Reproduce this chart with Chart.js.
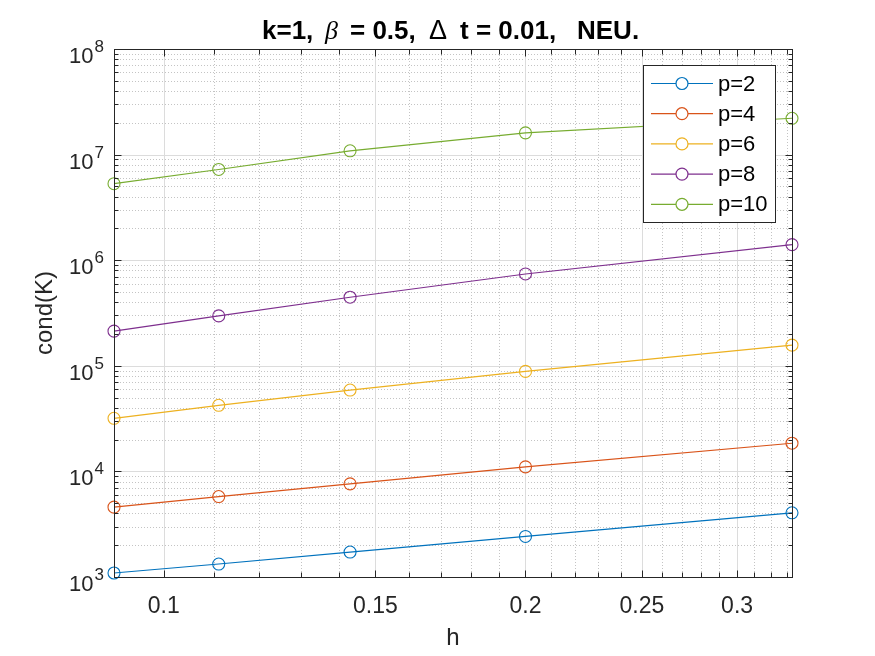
<!DOCTYPE html>
<html><head><meta charset="utf-8">
<script src="https://cdn.jsdelivr.net/npm/chart.js@4.4.0/dist/chart.umd.min.js"></script>
<style>html,body{margin:0;padding:0;background:#fff;overflow:hidden}#wrap{width:875px;height:656px;position:relative}</style>
</head><body>
<div id="wrap"><canvas id="c" width="875" height="656"></canvas></div>
<script>
// ---- data ----
const hValues = [0.0909, 0.1111, 0.1429, 0.2, 0.3333];
const condP2  = [1091, 1327, 1723, 2420, 4053];
const condP4  = [4587, 5779, 7619, 11030, 18480];
const condP6  = [31840, 42240, 58940, 88550, 156900];
const condP8  = [212800, 296900, 446000, 740500, 1404000];
const condP10 = [5300000, 7230000, 10860000, 16070000, 22080000];
const seriesLabels = ['p=2', 'p=4', 'p=6', 'p=8', 'p=10'];
const seriesColors = ['#0072BD', '#D95319', '#EDB120', '#7E2F8E', '#77AC30'];
const xMajorTicks = [0.1, 0.15, 0.2, 0.25, 0.3];
const xTickLabels = ['0.1', '0.15', '0.2', '0.25', '0.3'];
const xMinorTicks = [0.11, 0.12, 0.13, 0.14, 0.16, 0.17, 0.18, 0.19, 0.21, 0.22, 0.23, 0.24, 0.26, 0.27, 0.28, 0.29, 0.31, 0.32, 0.33];
const yMajorExponents = [3, 4, 5, 6, 7, 8];
const yMinorMultipliers = [2, 3, 4, 5, 6, 7, 8, 9];
// title pieces with their offset from the plot centre (px)
const titleParts = [
  {text: 'k=1,', style: 'bold', dx: -191},
  {text: 'β', style: 'greek', dx: -128},
  {text: '= 0.5,', style: 'bold', dx: -103},
  {text: 'Δ', style: 'delta', dx: -24},
  {text: 't = 0.01,', style: 'bold', dx: 7},
  {text: 'NEU.', style: 'bold', dx: 124}
];
const xAxisTitle = 'h';
const yAxisTitle = 'cond(K)';

const seriesValues = [condP2, condP4, condP6, condP8, condP10];

const FONT = '"Liberation Sans", Arial, Helvetica, sans-serif';
const AX = '#262626';

function seg(ctx, x1, y1, x2, y2) { ctx.beginPath(); ctx.moveTo(x1, y1); ctx.lineTo(x2, y2); ctx.stroke(); }

const matlabAxes = {
  id: 'matlabAxes',
  beforeDatasetsDraw(chart) {
    const {ctx, chartArea: a, scales: {x, y}} = chart;
    ctx.save();
    ctx.lineWidth = 1;
    ctx.strokeStyle = '#c4c4c4';
    ctx.setLineDash([1, 2]);
    xMinorTicks.forEach(v => { const px = Math.round(x.getPixelForValue(v)) + 0.5; seg(ctx, px, a.top, px, a.bottom); });
    yMajorExponents.slice(0, -1).forEach(e => yMinorMultipliers.forEach(m => {
      const py = Math.round(y.getPixelForValue(m * Math.pow(10, e))) + 0.5; seg(ctx, a.left, py, a.right, py);
    }));
    ctx.setLineDash([]);
    ctx.strokeStyle = '#dcdcdc';
    xMajorTicks.forEach(v => { const px = Math.round(x.getPixelForValue(v)) + 0.5; seg(ctx, px, a.top, px, a.bottom); });
    yMajorExponents.forEach(e => { const py = Math.round(y.getPixelForValue(Math.pow(10, e))) + 0.5; seg(ctx, a.left, py, a.right, py); });
    ctx.restore();
  },
  afterDatasetsDraw(chart) {
    const {ctx, chartArea: a, scales: {x, y}} = chart;
    ctx.save();
    const L = Math.round(a.left) + 0.5, R = Math.round(a.right) + 0.5, T = Math.round(a.top) + 0.5, B = Math.round(a.bottom) + 0.5;
    ctx.strokeStyle = AX; ctx.lineWidth = 1;
    ctx.strokeRect(L, T, R - L, B - T);
    const xt = (v, len) => { const px = Math.round(x.getPixelForValue(v)) + 0.5; seg(ctx, px, B, px, B - len); seg(ctx, px, T, px, T + len); };
    xMajorTicks.forEach(v => xt(v, 7));
    xMinorTicks.forEach(v => xt(v, 5));
    const yt = (v, len) => { const py = Math.round(y.getPixelForValue(v)) + 0.5; seg(ctx, L, py, L + len, py); seg(ctx, R, py, R - len, py); };
    yMajorExponents.forEach(e => yt(Math.pow(10, e), 7));
    yMajorExponents.slice(0, -1).forEach(e => yMinorMultipliers.forEach(m => yt(m * Math.pow(10, e), 4)));
    // x tick labels
    ctx.fillStyle = AX;
    ctx.font = '23px ' + FONT;
    ctx.textAlign = 'center'; ctx.textBaseline = 'alphabetic';
    xMajorTicks.forEach((v, i) => ctx.fillText(xTickLabels[i], x.getPixelForValue(v), a.bottom + 36));
    // y tick labels 10^n
    ctx.textAlign = 'left';
    yMajorExponents.forEach(e => {
      const py = y.getPixelForValue(Math.pow(10, e));
      ctx.font = '17px ' + FONT;
      const sw = ctx.measureText(String(e)).width;
      const sx = 104 - sw;
      ctx.fillText(String(e), sx, py + 3);
      ctx.font = '22px ' + FONT;
      const bw = ctx.measureText('10').width;
      ctx.fillText('10', sx - bw - 1, py + 14);
    });
    // axis titles
    ctx.font = '24px ' + FONT;
    ctx.textAlign = 'center';
    ctx.fillText(xAxisTitle, (a.left + a.right) / 2, 645);
    ctx.save();
    ctx.translate(52, (a.top + a.bottom) / 2);
    ctx.rotate(-Math.PI / 2);
    ctx.fillText(yAxisTitle, 0, 0);
    ctx.restore();
    // title
    const fontFor = s => s === 'bold' ? 'bold 26px ' + FONT : (s === 'greek' ? 'italic 26px "Liberation Serif", "DejaVu Serif", serif' : '27px ' + FONT);
    const cx = (a.left + a.right) / 2;
    ctx.fillStyle = '#000';
    ctx.textAlign = 'left';
    titleParts.forEach(p => { ctx.font = fontFor(p.style); ctx.fillText(p.text, cx + p.dx, 39); });
    // legend
    const lb = {l: 643.5, t: 65.5, r: 775.5, b: 222.5};
    ctx.fillStyle = '#fff';
    ctx.fillRect(lb.l, lb.t, lb.r - lb.l, lb.b - lb.t);
    ctx.strokeStyle = AX; ctx.lineWidth = 1;
    ctx.strokeRect(lb.l, lb.t, lb.r - lb.l, lb.b - lb.t);
    ctx.font = '22px ' + FONT;
    ctx.textBaseline = 'middle';
    chart.data.datasets.forEach((ds, i) => {
      const cy = 83.5 + i * 30.2;
      ctx.strokeStyle = ds.borderColor; ctx.lineWidth = 1.2;
      seg(ctx, 651, cy, 713, cy);
      ctx.fillStyle = '#fff';
      ctx.beginPath(); ctx.arc(682, cy, 6, 0, Math.PI * 2); ctx.fill(); ctx.stroke();
      ctx.fillStyle = '#000';
      ctx.fillText(ds.label, 718, cy + 1);
    });
    ctx.restore();
  }
};

const datasets = seriesValues.map((vals, i) => ({
  label: seriesLabels[i],
  data: hValues.map((h, j) => ({x: h, y: vals[j]})),
  borderColor: seriesColors[i],
  backgroundColor: 'rgba(0,0,0,0)',
  borderWidth: 1.2,
  pointStyle: 'circle',
  pointRadius: 6,
  pointBorderWidth: 1.1,
  pointBorderColor: seriesColors[i],
  pointBackgroundColor: 'rgba(0,0,0,0)',
  tension: 0,
  fill: false,
  clip: false
}));

new Chart(document.getElementById('c'), {
  type: 'line',
  data: {datasets},
  options: {
    responsive: false,
    animation: false,
    devicePixelRatio: 1,
    events: [],
    layout: {padding: {left: 114, right: 83, top: 49, bottom: 79}},
    scales: {
      x: {type: 'logarithmic', min: 0.0909, max: 0.3333, display: false},
      y: {type: 'logarithmic', min: 1000, max: 100000000, display: false}
    },
    plugins: {legend: {display: false}, title: {display: false}, tooltip: {enabled: false}}
  },
  plugins: [matlabAxes]
});
</script>
</body></html>
